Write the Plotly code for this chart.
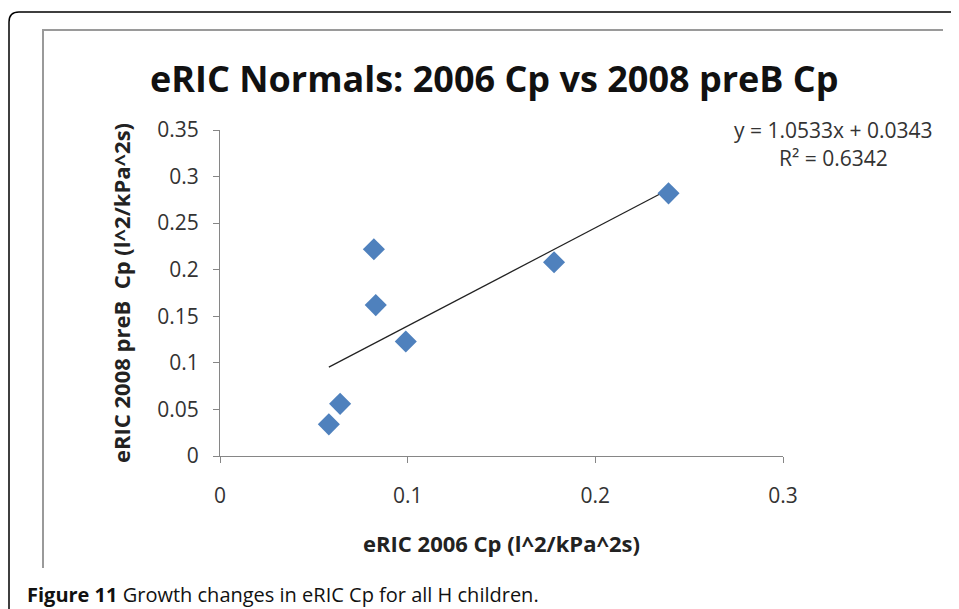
import plotly.graph_objects as go

# data
cp_2006 = [0.058, 0.064, 0.082, 0.083, 0.099, 0.178, 0.239]
cp_2008 = [0.034, 0.056, 0.222, 0.162, 0.123, 0.208, 0.282]
slope, intercept = 1.0533, 0.0343
x_ticks = [0, 0.1, 0.2, 0.3]
y_ticks = [0, 0.05, 0.1, 0.15, 0.2, 0.25, 0.3, 0.35]

OFF = 8  # page body margin
W, H = 959 - OFF, 609 - OFF
L, R, T, B = 220 - OFF, 783 - OFF, 130 - OFF, 456 - OFF  # plot area in pixels


def px(x, y):
    # screen pixel -> paper coords
    x, y = x - OFF, y - OFF
    return (x - L) / (R - L), (B - y) / (B - T)


FONT = "Open Sans"
AX = "#868686"

fig = go.Figure()

trend_x = [min(cp_2006), max(cp_2006)]
trend_y = [slope * v + intercept for v in trend_x]
fig.add_trace(go.Scatter(x=trend_x, y=trend_y, mode="lines",
                         line=dict(color="#222222", width=1.2), hoverinfo="skip"))
fig.add_trace(go.Scatter(x=cp_2006, y=cp_2008, mode="markers",
                         marker=dict(symbol="diamond", size=17, color="#4f81bd",
                                     line=dict(width=0))))

axis_common = dict(showgrid=False, zeroline=False, showline=True, linecolor=AX,
                   linewidth=1, ticks="outside", tickcolor=AX, ticklen=6,
                   tickfont=dict(family=FONT, size=21, color="#333"))
fig.update_xaxes(range=[0, 0.3], tickvals=x_ticks, ticktext=["0", "0.1", "0.2", "0.3"],
                 ticklabelstandoff=15, **axis_common,
                 title=dict(text="<b>eRIC 2006 Cp (l^2/kPa^2s)</b>",
                            font=dict(family=FONT, size=22, color="#222"), standoff=28))
fig.update_yaxes(range=[0, 0.35], tickvals=y_ticks,
                 ticktext=["0", "0.05", "0.1", "0.15", "0.2", "0.25", "0.3", "0.35"],
                 ticklabelstandoff=10, **axis_common,
                 title=dict(text="<b>eRIC 2008 preB  Cp (l^2/kPa^2s)</b>",
                            font=dict(family=FONT, size=22, color="#222"), standoff=20))

# frames: outer rounded page border and inner chart border
ox0, oy0 = px(9, 612)
ox1, oy1 = px(9, 22)
ox2, oy2 = px(19, 12)
ox3, oy3 = px(962, 12)
qx, qy = px(9, 12)
ix0, iy0 = px(43, 568)
ix1, iy1 = px(43, 30)
ix2, iy2 = px(943, 30)
fig.update_layout(shapes=[
    dict(type="path", xref="paper", yref="paper",
         path=f"M {ox0},{oy0} L {ox1},{oy1} Q {qx},{qy} {ox2},{oy2} L {ox3},{oy3}",
         line=dict(color="#000", width=1.5)),
    dict(type="path", xref="paper", yref="paper",
         path=f"M {ix0},{iy0} L {ix1},{iy1} L {ix2},{iy2}",
         line=dict(color="#9a9a9a", width=2)),
])

tx, ty = px(494, 78)
ex, ey = px(833, 130)
ex2, ey2 = px(833, 158)
cx, cy = px(25, 594)
ann = dict(xref="paper", yref="paper", showarrow=False, xanchor="center", yanchor="middle")
fig.update_layout(annotations=[
    dict(ann, text="<b>eRIC Normals: 2006 Cp vs 2008 preB Cp</b>", x=tx, y=ty,
         font=dict(family=FONT, size=36, color="#111")),
    dict(ann, text="y = 1.0533x + 0.0343", x=ex, y=ey,
         font=dict(family=FONT, size=21, color="#333")),
    dict(ann, text="R² = 0.6342", x=ex2, y=ey2,
         font=dict(family=FONT, size=21, color="#333")),
    dict(ann, text="<b>Figure 11</b> Growth changes in eRIC Cp for all H children.",
         x=cx, y=cy, xanchor="left", font=dict(family=FONT, size=20, color="#111")),
])

fig.update_layout(width=W, height=H, showlegend=False,
                  margin=dict(l=L, r=W - R, t=T, b=H - B),
                  paper_bgcolor="white", plot_bgcolor="white")

fig.write_html("out.html")
